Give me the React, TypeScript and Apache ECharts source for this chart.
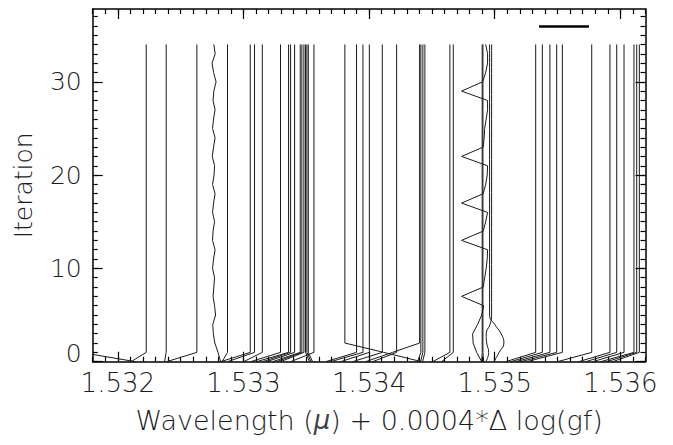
import React, { useEffect, useRef } from 'react';
import * as echarts from 'echarts';

// ---------- axis ranges and ticks ----------
const X_MIN = 1.5318;
const X_MAX = 1.5362;
const Y_MIN = 0;
const Y_MAX = 37.8;
const ITER_MAX = 34;
const xMajorTicks = [1.532, 1.533, 1.534, 1.535, 1.536];
const yMajorTicks = [0, 10, 20, 30];
const xMinorTicks = Array.from({ length: 45 }, (_, i) => +(1.5318 + i * 0.0001).toFixed(4));
const yMinorTicks = Array.from({ length: 38 }, (_, i) => i);

// ---------- line data ----------
// simple lines: wavelength at iteration 0 (start) and at iterations 1..34 (final)
const lineFinalX = [
  1.531703, 1.532226, 1.532385, 1.532629, 1.532873, 1.533054, 1.533088, 1.53315,
  1.533295, 1.533359, 1.533375, 1.533407, 1.533452, 1.533465, 1.533481, 1.533494,
  1.533505, 1.533516, 1.533561, 1.5339, 1.533951, 1.534002, 1.534105, 1.534219,
  1.534412, 1.534428, 1.534444, 1.534643, 1.53467, 1.5349, 1.534906, 1.535326,
  1.535379, 1.535439, 1.535493, 1.535538, 1.535772, 1.535917, 1.535971, 1.536029,
  1.536108, 1.53613, 1.536151,
];
const lineStartX = [
  1.532141, 1.532105, 1.532372, 1.532388, 1.53283, 1.532818, 1.532873, 1.533001,
  1.533057, 1.533104, 1.533152, 1.533184, 1.533232, 1.533264, 1.533295, 1.533526,
  1.533538, 1.53355, 1.533375, 1.533654, 1.533693, 1.533773, 1.533869, 1.534028,
  1.534386, 1.53441, 1.534426, 1.534506, 1.534577, 1.534896, 1.534912, 1.535087,
  1.535127, 1.535166, 1.535206, 1.535254, 1.535499, 1.535668, 1.535724, 1.53578,
  1.535843, 1.535891, 1.535939,
];

// wavy line, iteration 0..34
const wavyLineX = [
  1.532818, 1.532798, 1.532772, 1.53276, 1.532756, 1.532778, 1.53277, 1.532758,
  1.532764, 1.53277, 1.532754, 1.532762, 1.532774, 1.532754, 1.532758, 1.53277,
  1.532754, 1.532762, 1.532774, 1.532754, 1.532766, 1.53277, 1.532752, 1.532762,
  1.532774, 1.532754, 1.532762, 1.532774, 1.532758, 1.532764, 1.532782, 1.532762,
  1.53275, 1.532775, 1.532764,
];

// zig-zag line, iteration 0..34
const zigzagLineX = [
  1.534896, 1.534856, 1.534828, 1.534824, 1.534864, 1.534896, 1.534912, 1.534736,
  1.534908, 1.53492, 1.534932, 1.53494, 1.534943, 1.534736, 1.534908, 1.534928,
  1.534943, 1.534736, 1.534908, 1.534928, 1.53494, 1.534943, 1.534736, 1.534908,
  1.534916, 1.53492, 1.534932, 1.534943, 1.534943, 1.534736, 1.534904, 1.534928,
  1.534943, 1.534943, 1.534928,
];

// lines that move over the first few iterations: [wavelength, iteration]
const rightBowPoints = [
  [1.534994, 0], [1.535035, 1], [1.535073, 2], [1.535051, 3], [1.534999, 4], [1.534959, 5], [1.534959, 34],
];
const midBowPoints = [
  [1.534928, 0], [1.534952, 1], [1.534936, 2], [1.534932, 3], [1.534963, 4], [1.534975, 5], [1.534975, 34],
];
const crossDownPoints = [
  [1.534418, 0], [1.534115, 1], [1.533807, 2], [1.533807, 34],
];
const crossUpPoints = [
  [1.533972, 0], [1.534187, 1], [1.534402, 2], [1.534402, 34],
];

const FONT = "'DejaVu Sans', sans-serif";
const FONT_WEIGHT = 200;
const TEXT_COLOR = '#1c1c1c';
const LINE_COLOR = '#1a1a1a';

function buildSeries() {
  const series: any[] = [];
  const add = (data: number[][], smooth = false) =>
    series.push({
      type: 'line',
      data,
      symbol: 'none',
      showSymbol: false,
      smooth,
      silent: true,
      clip: true,
      lineStyle: { color: LINE_COLOR, width: 1 },
    });
  lineFinalX.forEach((fx, i) => {
    add([[lineStartX[i], 0], [fx, 1], [fx, ITER_MAX]]);
  });
  add(wavyLineX.map((x, i) => [x, i]));
  add(zigzagLineX.map((x, i) => [x, i]));
  add(rightBowPoints, true);
  add(midBowPoints, true);
  add(crossDownPoints);
  add(crossUpPoints);
  return series;
}

function xAxisDef(position: 'top' | 'bottom', ticks: number[], len: number, major: boolean, withLabels: boolean) {
  return {
    type: 'value',
    position,
    min: X_MIN,
    max: X_MAX,
    axisLine: { show: major, onZero: false, lineStyle: { color: '#000', width: 1.5 } },
    axisTick: { show: true, inside: true, length: len, customValues: ticks, lineStyle: { color: '#000', width: 1.2 } },
    axisLabel: withLabels
      ? {
          show: true,
          customValues: xMajorTicks,
          formatter: (v: number) => v.toFixed(3),
          fontSize: 26,
          fontFamily: FONT,
          fontWeight: FONT_WEIGHT,
          color: TEXT_COLOR,
          margin: 8,
        }
      : { show: false },
    splitLine: { show: false },
    ...(withLabels
      ? {
          name: 'Wavelength ({i|μ}) + 0.0004*Δ log(gf)',
          nameLocation: 'middle',
          nameGap: 45,
          nameTextStyle: {
            fontSize: 27,
            fontFamily: FONT,
            fontWeight: FONT_WEIGHT,
            color: TEXT_COLOR,
            rich: { i: { fontStyle: 'italic', fontSize: 26, fontFamily: FONT, fontWeight: 'normal', color: '#444' } },
          },
        }
      : {}),
  };
}

function yAxisDef(position: 'left' | 'right', ticks: number[], len: number, major: boolean, withLabels: boolean) {
  return {
    type: 'value',
    position,
    min: Y_MIN,
    max: Y_MAX,
    axisLine: { show: major, onZero: false, lineStyle: { color: '#000', width: 1.5 } },
    axisTick: { show: true, inside: true, length: len, customValues: ticks, lineStyle: { color: '#000', width: 1.2 } },
    axisLabel: withLabels
      ? {
          show: true,
          customValues: yMajorTicks,
          formatter: (v: number) => (v === 0 ? '{z|0}' : String(v)),
          fontSize: 25,
          fontFamily: FONT,
          fontWeight: FONT_WEIGHT,
          color: TEXT_COLOR,
          margin: 11,
          rich: { z: { fontSize: 25, fontFamily: FONT, fontWeight: FONT_WEIGHT, color: TEXT_COLOR, padding: [0, 0, 17, 0] } },
        }
      : { show: false },
    splitLine: { show: false },
    ...(withLabels
      ? {
          name: 'Iteration',
          nameLocation: 'middle',
          nameGap: 57,
          nameTextStyle: { fontSize: 25, fontFamily: FONT, fontWeight: FONT_WEIGHT, color: TEXT_COLOR },
        }
      : {}),
  };
}

export default function App() {
  const ref = useRef<HTMLDivElement>(null);
  useEffect(() => {
    document.body.style.margin = '0';
    if (!ref.current) return;
    const chart = echarts.init(ref.current, undefined, { renderer: 'svg' });
    chart.setOption({
      animation: false,
      backgroundColor: '#fff',
      grid: { left: 92.7, right: 27.5, top: 9, bottom: 83.3, containLabel: false },
      xAxis: [
        xAxisDef('bottom', xMajorTicks, 10, true, true),
        xAxisDef('bottom', xMinorTicks, 5, false, false),
        xAxisDef('top', xMajorTicks, 10, true, false),
        xAxisDef('top', xMinorTicks, 5, false, false),
      ],
      yAxis: [
        yAxisDef('left', yMajorTicks, 10, true, true),
        yAxisDef('left', yMinorTicks, 5, false, false),
        yAxisDef('right', yMajorTicks, 10, true, false),
        yAxisDef('right', yMinorTicks, 5, false, false),
      ],
      series: buildSeries(),
      graphic: [
        {
          type: 'line',
          shape: { x1: 539, y1: 26.5, x2: 589, y2: 26.5 },
          style: { stroke: '#000', lineWidth: 2.5 },
          silent: true,
        },
      ],
    });
    return () => chart.dispose();
  }, []);
  return <div ref={ref} style={{ width: 673, height: 445 }} />;
}
